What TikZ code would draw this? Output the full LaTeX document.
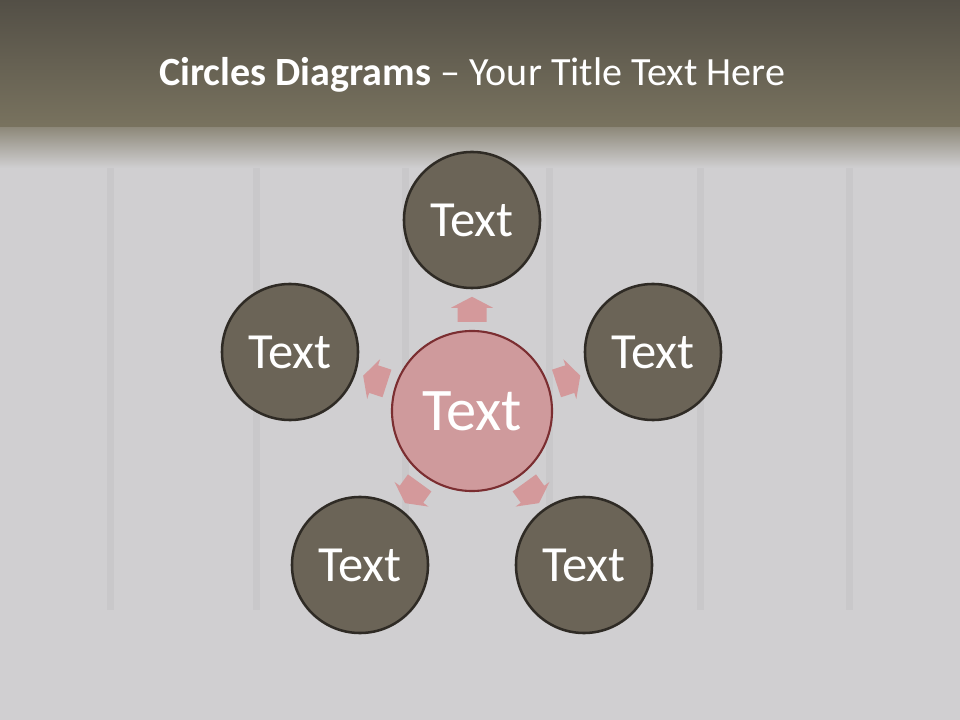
\documentclass[tikz,border=0pt]{standalone}
\usepackage{fontspec}
\setmainfont{Carlito}
\usetikzlibrary{calc}
\definecolor{bandtop}{HTML}{534F46}
\definecolor{bandbot}{HTML}{79735F}
\definecolor{wall}{HTML}{D0CFD1}
\definecolor{plank}{HTML}{BBBABC}
\definecolor{bubble}{HTML}{6B6457}
\definecolor{bubbleline}{HTML}{2F2B25}
\definecolor{core}{HTML}{CF9A9C}
\definecolor{coreline}{HTML}{7B2E31}
\definecolor{arr}{HTML}{D4999B}
\begin{document}
\begin{tikzpicture}[x=0.025cm,y=-0.025cm,line join=round,
    outer/.style={circle,draw=bubbleline,line width=1.8pt,fill=bubble,minimum size=3.4cm,
      text=white,font=\fontsize{36}{36}\selectfont},
    inner/.style={circle,draw=coreline,line width=1.5pt,fill=core,minimum size=4.0cm,
      text=white,font=\fontsize{43}{43}\selectfont},
    blockarr/.pic={\fill[arr] (13,0)--(2,-21)--(2,-14.5)--(-12,-14.5)--(-12,14.5)--(2,14.5)--(2,21)--cycle;}]
  % background and title band
  \fill[wall] (0,0) rectangle (960,720);
  \foreach \px in {110,256,405,549,700,849}
    \fill[plank,opacity=.3] (\px-3,140) rectangle (\px+4,610);
  \shade[top color=bandtop,bottom color=bandbot] (0,0) rectangle (960,128);
  \shade[top color=bandbot!75!wall,bottom color=wall] (0,128) rectangle (960,168);
  \node[text=white,font=\fontsize{28.5}{28.5}\selectfont] (title) at (472,75)
    {\textbf{Circles Diagrams} -- Your Title Text Here};
  % circles
  \node[inner] (mid) at (472,411) {Text};
  \node[outer] (top) at (472,220) {Text};
  \node[outer] (lft) at (290,352) {Text};
  \node[outer] (rgt) at (653,352) {Text};
  \node[outer] (blft) at (360,565) {Text};
  \node[outer] (brgt) at (584,565) {Text};
  % block arrows
  \foreach \o/\a in {top/90,rgt/18,lft/162,brgt/-54,blft/-126}
    \pic[rotate=\a] at ($(mid)!0.53!(\o)$) {blockarr};
\end{tikzpicture}
\end{document}
